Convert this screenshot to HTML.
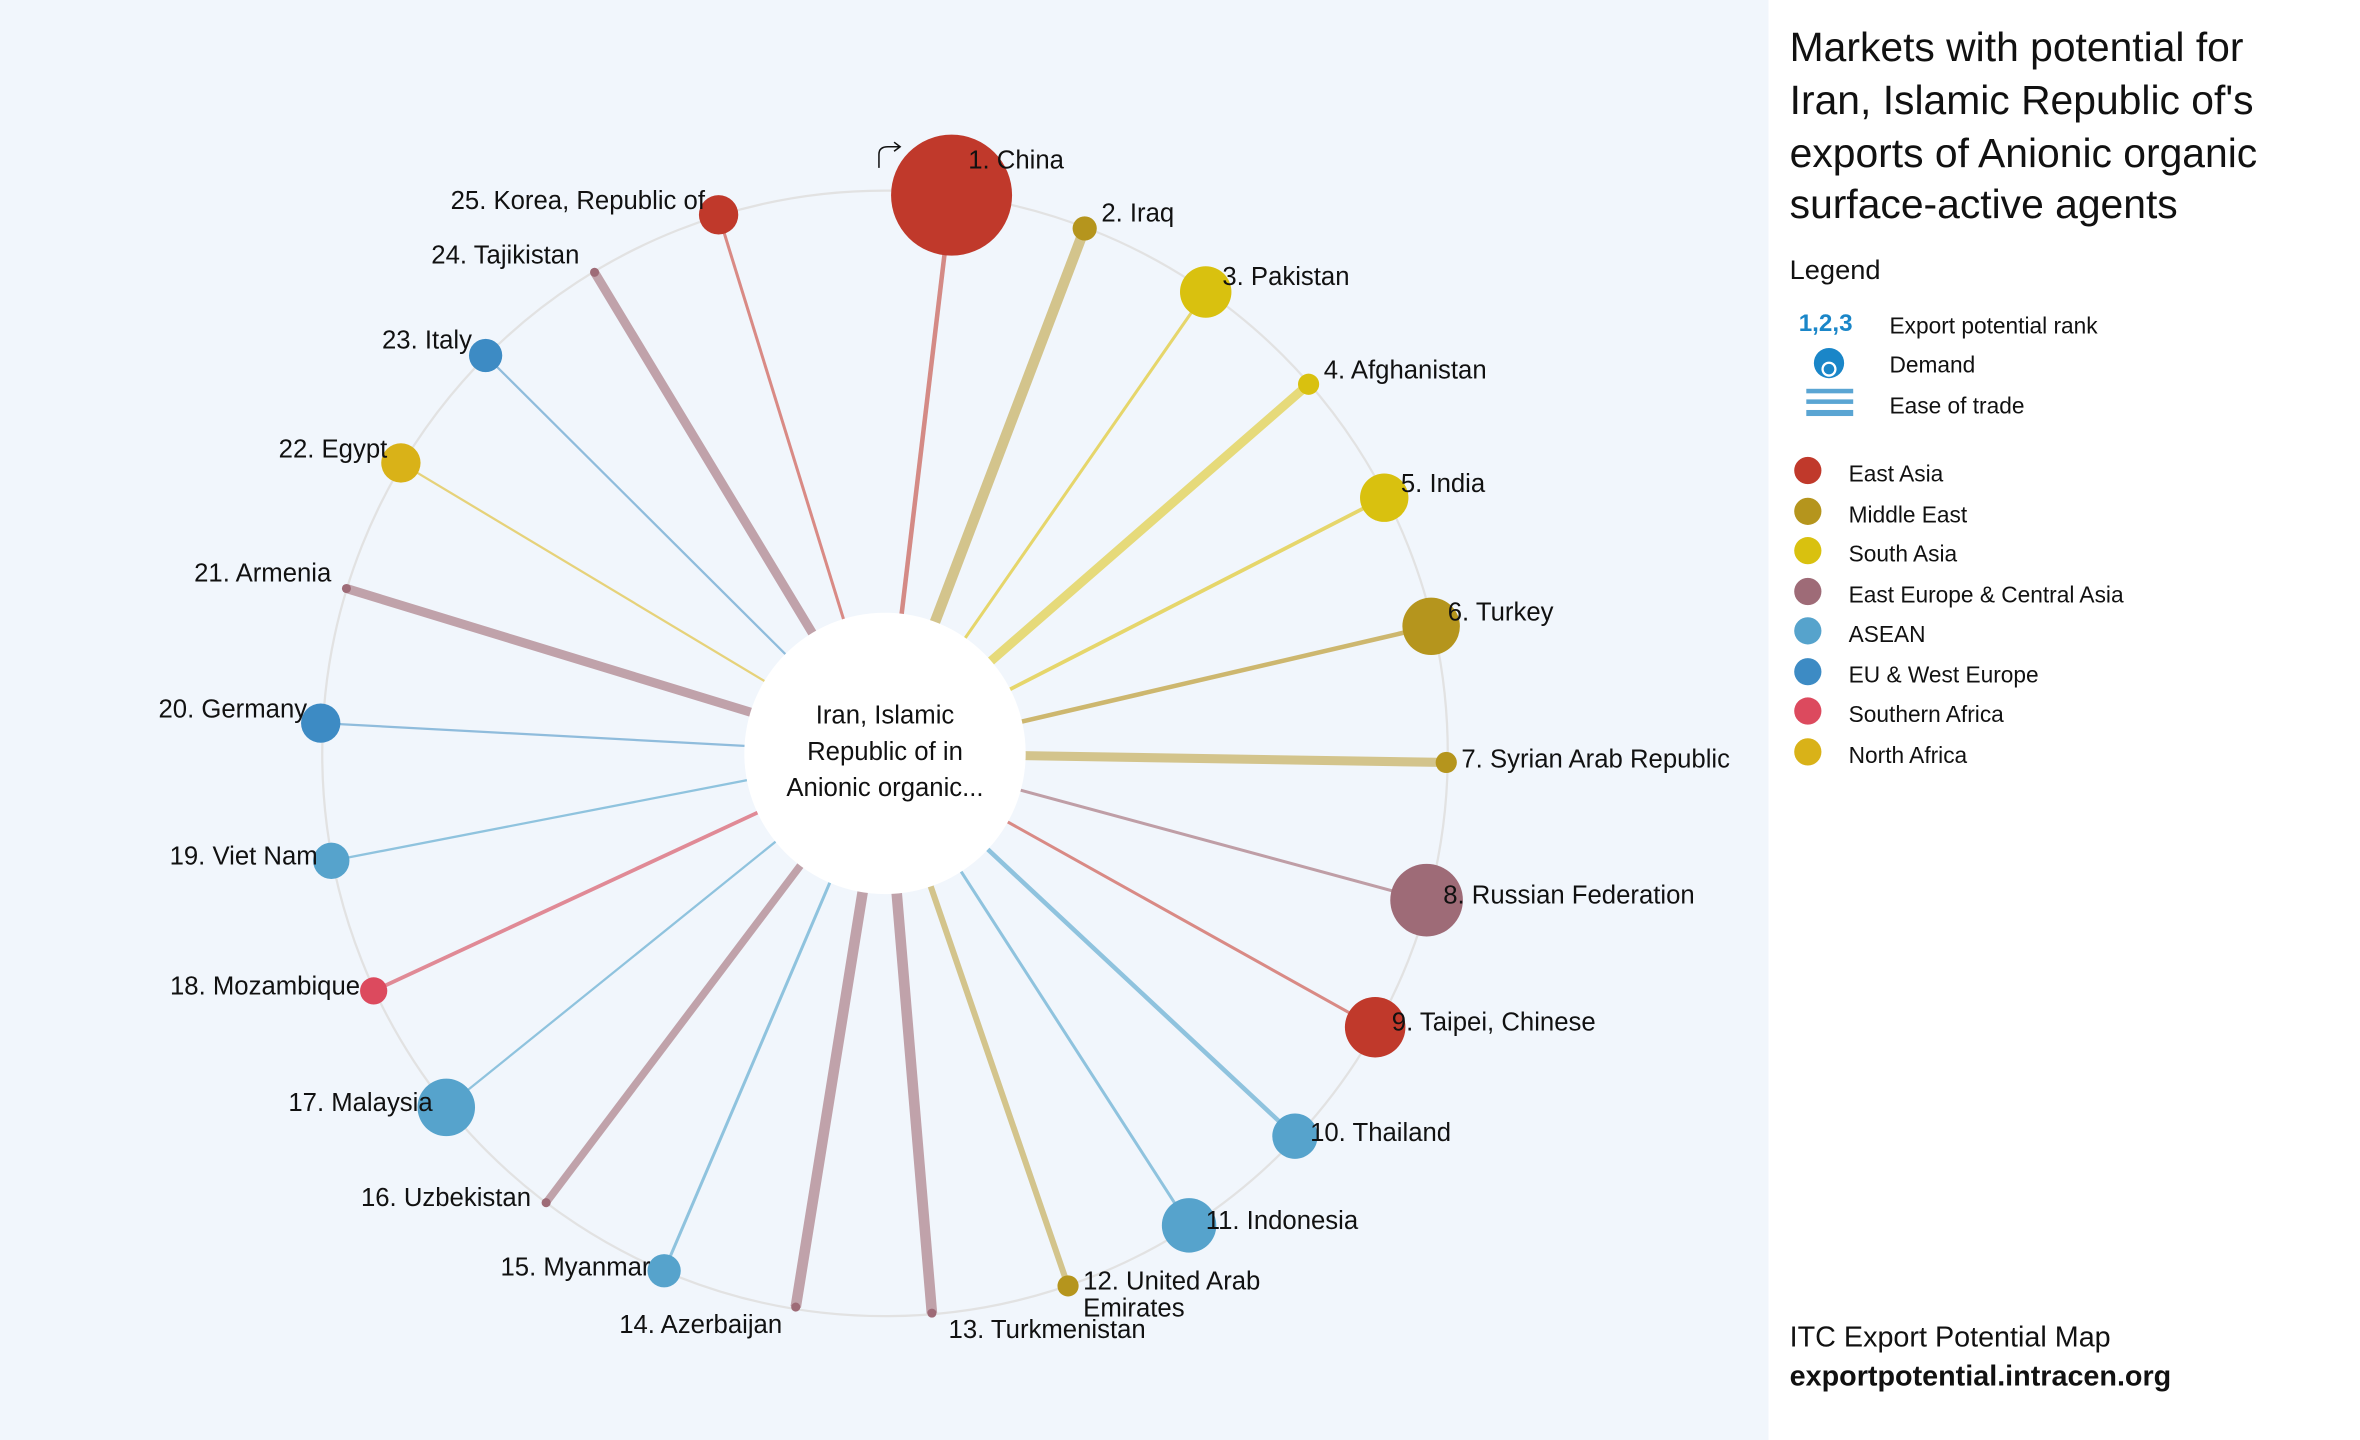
<!DOCTYPE html>
<html><head><meta charset="utf-8"><style>
html,body{margin:0;padding:0;width:2360px;height:1440px;overflow:hidden;background:#fff}
svg{display:block}
text{font-family:"Liberation Sans",sans-serif;fill:#111}
</style></head><body>
<svg width="2360" height="1440" viewBox="0 0 1560 951.86" preserveAspectRatio="none">
<rect x="0" y="0" width="1169" height="952" fill="#f1f6fc"/>
<rect x="1169" y="0" width="391" height="952" fill="#fff"/>
<circle cx="585" cy="498" r="372" fill="none" stroke="#e2e2e2" stroke-width="1.5"/>
<g stroke-linecap="butt">
<line x1="585" y1="498" x2="629" y2="129" stroke="#d48a85" stroke-width="3"/>
<line x1="585" y1="498" x2="717" y2="151" stroke="#d3c48c" stroke-width="7"/>
<line x1="585" y1="498" x2="797" y2="193" stroke="#e6d66b" stroke-width="2"/>
<line x1="585" y1="498" x2="865" y2="254" stroke="#e6da7a" stroke-width="6"/>
<line x1="585" y1="498" x2="915" y2="329" stroke="#e6d66b" stroke-width="2.5"/>
<line x1="585" y1="498" x2="946" y2="414" stroke="#cdb76f" stroke-width="3"/>
<line x1="585" y1="498" x2="956" y2="504" stroke="#d3c48c" stroke-width="6"/>
<line x1="585" y1="498" x2="943" y2="595" stroke="#bf9ea6" stroke-width="2"/>
<line x1="585" y1="498" x2="909" y2="679" stroke="#d98a85" stroke-width="2"/>
<line x1="585" y1="498" x2="856" y2="751" stroke="#8fc3de" stroke-width="3"/>
<line x1="585" y1="498" x2="786" y2="810" stroke="#8fc3de" stroke-width="2"/>
<line x1="585" y1="498" x2="706" y2="850" stroke="#d3c48c" stroke-width="4"/>
<line x1="585" y1="498" x2="616" y2="868" stroke="#c0a2aa" stroke-width="7"/>
<line x1="585" y1="498" x2="526" y2="864" stroke="#c0a2aa" stroke-width="7"/>
<line x1="585" y1="498" x2="439" y2="840" stroke="#8fc3de" stroke-width="2"/>
<line x1="585" y1="498" x2="361" y2="795" stroke="#c0a2aa" stroke-width="5"/>
<line x1="585" y1="498" x2="295" y2="732" stroke="#8fc3de" stroke-width="1.5"/>
<line x1="585" y1="498" x2="247" y2="655" stroke="#e08a96" stroke-width="2.5"/>
<line x1="585" y1="498" x2="219" y2="569" stroke="#8fc3de" stroke-width="1.5"/>
<line x1="585" y1="498" x2="212" y2="478" stroke="#8fbcdc" stroke-width="1.5"/>
<line x1="585" y1="498" x2="229" y2="389" stroke="#c0a2aa" stroke-width="6"/>
<line x1="585" y1="498" x2="265" y2="306" stroke="#e6d27a" stroke-width="1.5"/>
<line x1="585" y1="498" x2="321" y2="235" stroke="#8fbcdc" stroke-width="1.5"/>
<line x1="585" y1="498" x2="393" y2="180" stroke="#c0a2aa" stroke-width="6"/>
<line x1="585" y1="498" x2="475" y2="142" stroke="#d98a85" stroke-width="2"/>
</g>
<circle cx="585" cy="498" r="93" fill="#fff"/>
<g>
<circle cx="629" cy="129" r="40" fill="#c0392b"/>
<circle cx="717" cy="151" r="8" fill="#b5951d"/>
<circle cx="797" cy="193" r="17" fill="#d9c10f"/>
<circle cx="865" cy="254" r="7" fill="#d9c10f"/>
<circle cx="915" cy="329" r="16" fill="#d9c10f"/>
<circle cx="946" cy="414" r="19" fill="#b5951d"/>
<circle cx="956" cy="504" r="7" fill="#b5951d"/>
<circle cx="943" cy="595" r="24" fill="#9e6b77"/>
<circle cx="909" cy="679" r="20" fill="#c0392b"/>
<circle cx="856" cy="751" r="15" fill="#56a3cc"/>
<circle cx="786" cy="810" r="18" fill="#56a3cc"/>
<circle cx="706" cy="850" r="7" fill="#b5951d"/>
<circle cx="616" cy="868" r="3" fill="#9e6b77"/>
<circle cx="526" cy="864" r="3" fill="#9e6b77"/>
<circle cx="439" cy="840" r="11" fill="#56a3cc"/>
<circle cx="361" cy="795" r="3" fill="#9e6b77"/>
<circle cx="295" cy="732" r="19" fill="#56a3cc"/>
<circle cx="247" cy="655" r="9" fill="#dc4a5e"/>
<circle cx="219" cy="569" r="12" fill="#56a3cc"/>
<circle cx="212" cy="478" r="13" fill="#3d8bc4"/>
<circle cx="229" cy="389" r="3" fill="#9e6b77"/>
<circle cx="265" cy="306" r="13" fill="#d9b218"/>
<circle cx="321" cy="235" r="11" fill="#3d8bc4"/>
<circle cx="393" cy="180" r="3" fill="#9e6b77"/>
<circle cx="475" cy="142" r="13" fill="#c0392b"/>
</g>
<path d="M581 111 V102 Q581 97 587 97 H595 M591 94 L595 97 L591 100" fill="none" stroke="#111" stroke-width="1"/>
<g font-size="17" dominant-baseline="central">
<text x="640" y="106">1. China</text>
<text x="728" y="141">2. Iraq</text>
<text x="808" y="183">3. Pakistan</text>
<text x="875" y="245">4. Afghanistan</text>
<text x="926" y="320">5. India</text>
<text x="957" y="405">6. Turkey</text>
<text x="966" y="502">7. Syrian Arab Republic</text>
<text x="954" y="592">8. Russian Federation</text>
<text x="920" y="676">9. Taipei, Chinese</text>
<text x="866" y="749">10. Thailand</text>
<text x="797" y="807">11. Indonesia</text>
<text x="716" y="847">12. United Arab</text>
<text x="716" y="865">Emirates</text>
<text x="627" y="879">13. Turkmenistan</text>
<g text-anchor="end">
<text x="517" y="876">14. Azerbaijan</text>
<text x="430" y="838">15. Myanmar</text>
<text x="351" y="792">16. Uzbekistan</text>
<text x="286" y="729">17. Malaysia</text>
<text x="238" y="652">18. Mozambique</text>
<text x="210" y="566">19. Viet Nam</text>
<text x="203" y="469">20. Germany</text>
<text x="219" y="379">21. Armenia</text>
<text x="256" y="297">22. Egypt</text>
<text x="312" y="225">23. Italy</text>
<text x="383" y="169">24. Tajikistan</text>
<text x="466" y="133">25. Korea, Republic of</text>
</g>
<g text-anchor="middle">
<text x="585" y="473">Iran, Islamic</text>
<text x="585" y="497">Republic of in</text>
<text x="585" y="521">Anionic organic...</text>
</g>
</g>
<g dominant-baseline="central">
<text x="1183" y="31" font-size="27">Markets with potential for</text>
<text x="1183" y="66" font-size="27">Iran, Islamic Republic of's</text>
<text x="1183" y="101" font-size="27">exports of Anionic organic</text>
<text x="1183" y="135" font-size="27">surface-active agents</text>
<text x="1183" y="178" font-size="18">Legend</text>
<text x="1189" y="214" font-size="16" font-weight="bold" style="fill:#1a86c8">1,2,3</text>
<text x="1249" y="215" font-size="15">Export potential rank</text>
<circle cx="1209" cy="240" r="10" fill="#1a86c8"/>
<circle cx="1209" cy="244" r="5" fill="#fff"/><circle cx="1209" cy="244" r="3.5" fill="#1a86c8"/>
<text x="1249" y="241" font-size="15">Demand</text>
<rect x="1194" y="257" width="31" height="3" fill="#5aa5d3"/>
<rect x="1194" y="264" width="31" height="3" fill="#5aa5d3"/>
<rect x="1194" y="271" width="31" height="4" fill="#5aa5d3"/>
<text x="1249" y="268" font-size="15">Ease of trade</text>
<circle cx="1195" cy="311" r="9" fill="#c0392b"/><text x="1222" y="313" font-size="15">East Asia</text>
<circle cx="1195" cy="338" r="9" fill="#b5951d"/><text x="1222" y="340" font-size="15">Middle East</text>
<circle cx="1195" cy="364" r="9" fill="#d9c10f"/><text x="1222" y="366" font-size="15">South Asia</text>
<circle cx="1195" cy="391" r="9" fill="#9e6b77"/><text x="1222" y="393" font-size="15">East Europe &amp; Central Asia</text>
<circle cx="1195" cy="417" r="9" fill="#56a3cc"/><text x="1222" y="419" font-size="15">ASEAN</text>
<circle cx="1195" cy="444" r="9" fill="#3d8bc4"/><text x="1222" y="446" font-size="15">EU &amp; West Europe</text>
<circle cx="1195" cy="470" r="9" fill="#dc4a5e"/><text x="1222" y="472" font-size="15">Southern Africa</text>
<circle cx="1195" cy="497" r="9" fill="#d9b218"/><text x="1222" y="499" font-size="15">North Africa</text>
<text x="1183" y="884" font-size="19">ITC Export Potential Map</text>
<text x="1183" y="910" font-size="19" font-weight="bold">exportpotential.intracen.org</text>
</g>
</svg>
</body></html>
